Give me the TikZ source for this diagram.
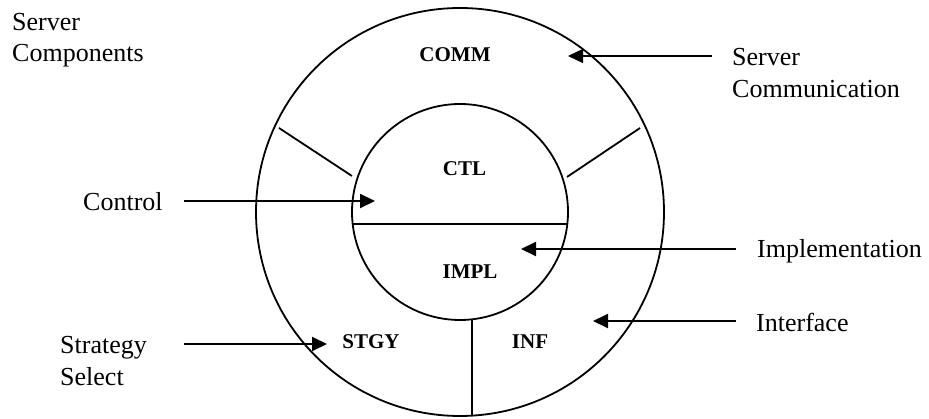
\documentclass[tikz,border=0pt]{standalone}
\usepackage{fontspec}
\setmainfont{Liberation Serif}
\usetikzlibrary{arrows.meta}
\begin{document}
\begin{tikzpicture}[x=1pt,y=-1pt,
  ring/.style={draw,circle,inner sep=0pt,outer sep=0pt,line width=1.8pt},
  sep/.style={line width=1.8pt},
  lbl/.style={font=\fontsize{26}{31}\selectfont,inner sep=0pt,anchor=base west},
  part/.style={font=\fontsize{21}{25}\selectfont\bfseries,inner sep=0pt},
  arr/.style={line width=2pt,-{Triangle[length=15pt,width=14pt]}},
  thinarr/.style={line width=1.4pt,-{Triangle[length=15pt,width=14pt]}}]
\useasboundingbox (0,0) rectangle (929,419);
\fill[white] (0,0) rectangle (929,419);
% circles
\node[ring,minimum size=408pt] (outer) at (460,212) {};
\node[ring,minimum size=216pt] (inner) at (460,212) {};
% dividers
\draw[sep] (279,128) -- (352,176);
\draw[sep] (640,128) -- (567,177);
\draw[sep] (352.7,224) -- (567.3,224);
\draw[sep] (472,319.3) -- (472,415.6);
% part labels
\node[part] (comm) at (455,55) {COMM};
\node[part] (ctl) at (464.5,168.5) {CTL};
\node[part] (impl) at (470,271.5) {IMPL};
\node[part] (stgy) at (371,342) {STGY};
\node[part] (inf) at (530,342) {INF};
% text labels
\node[lbl] (sc1) at (12,31) {Server};
\node[lbl] (sc2) at (12,62) {Components};
\node[lbl] (scm1) at (732,66) {Server};
\node[lbl] (scm2) at (732,98) {Communication};
\node[lbl] (ctrl) at (83,211) {Control};
\node[lbl] (impltxt) at (757,258) {Implementation};
\node[lbl] (inftxt) at (756,332) {Interface};
\node[lbl] (st1) at (60,354) {Strategy};
\node[lbl] (st2) at (60,385) {Select};
% arrow ends
\coordinate (commS) at (712,56);
\coordinate (commE) at (568,56);
\coordinate (ctlS) at (184,201);
\coordinate (ctlE) at (375,201);
\coordinate (implS) at (736,249);
\coordinate (implE) at (521,249);
\coordinate (infS) at (736,321);
\coordinate (infE) at (593,321);
\coordinate (stS) at (184,344);
\coordinate (stE) at (327,344);
\draw[thinarr] (commS) -- (commE);
\draw[arr] (ctlS) -- (ctlE);
\draw[arr] (implS) -- (implE);
\draw[arr] (infS) -- (infE);
\draw[arr] (stS) -- (stE);
\end{tikzpicture}
\end{document}
